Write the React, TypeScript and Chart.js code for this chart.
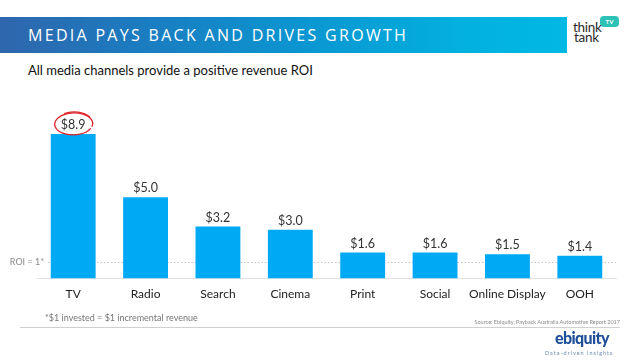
import React, { useEffect, useRef } from "react";
import { Chart, registerables } from "chart.js";

Chart.register(...registerables);

const categories = ["TV", "Radio", "Search", "Cinema", "Print", "Social", "Online Display", "OOH"];
const roiValues = [8.9, 5.0, 3.2, 3.0, 1.6, 1.6, 1.5, 1.4];
const roiBreakEven = 1;
const yMin = 0;
const yMax = 10;

const titleText = "MEDIA PAYS BACK AND DRIVES GROWTH";
const subtitleText = "All media channels provide a positive revenue ROI";
const roiLabel = "ROI = 1*";
const footnoteText = "*$1 invested = $1 incremental revenue";
const sourceText = "Source: Ebiquity, Payback Australia Automotive Report 2017";

const BAR_COLOR = "#00a9f4";

const annotationPlugin = {
  id: "annotations",
  beforeDatasetsDraw(chart: any) {
    const { ctx, chartArea, scales } = chart;
    const y = Math.round(scales.y.getPixelForValue(roiBreakEven)) + 0.5;
    ctx.save();
    ctx.strokeStyle = "#c4c4c4";
    ctx.lineWidth = 1;
    ctx.setLineDash([1.5, 2]);
    ctx.beginPath();
    ctx.moveTo(chartArea.left + 11, y);
    ctx.lineTo(chartArea.right, y);
    ctx.stroke();
    ctx.setLineDash([]);
    ctx.fillStyle = "#8a8a8a";
    ctx.font = "9px Lato, 'Liberation Sans', sans-serif";
    ctx.textAlign = "right";
    ctx.textBaseline = "middle";
    ctx.fillText(roiLabel, chartArea.left + 7, y);
    ctx.restore();
  },
  afterDatasetsDraw(chart: any) {
    const { ctx } = chart;
    const meta = chart.getDatasetMeta(0);
    ctx.save();
    ctx.fillStyle = "#333333";
    ctx.font = "12.5px Lato, 'Liberation Sans', sans-serif";
    ctx.textAlign = "center";
    ctx.textBaseline = "middle";
    meta.data.forEach((bar: any, i: number) => {
      const v = roiValues[i];
      ctx.fillText("$" + v.toFixed(1), bar.x, bar.y - 9);
    });
    // red hand-drawn circle around the top value
    const top = meta.data[0];
    if (top) {
      const cx = top.x + 0.5;
      const cy = top.y - 10;
      ctx.strokeStyle = "#e0262b";
      ctx.lineWidth = 1.3;
      ctx.beginPath();
      ctx.ellipse(cx, cy, 19, 11, -0.03, 0.15 * Math.PI, 2.1 * Math.PI);
      ctx.stroke();
      ctx.beginPath();
      ctx.ellipse(cx + 1, cy - 0.5, 18.5, 11.5, 0.04, 1.3 * Math.PI, 1.8 * Math.PI);
      ctx.stroke();
    }
    ctx.restore();
  },
};

function ChartCanvas() {
  const ref = useRef<HTMLCanvasElement | null>(null);
  useEffect(() => {
    if (!ref.current) return;
    const chart = new Chart(ref.current, {
      type: "bar",
      data: {
        labels: categories,
        datasets: [
          {
            data: roiValues,
            backgroundColor: BAR_COLOR,
            borderWidth: 0,
            barPercentage: 0.62,
            categoryPercentage: 1,
          },
        ],
      },
      options: {
        animation: false,
        responsive: false,
        devicePixelRatio: 1,
        layout: { padding: { left: 37, right: 14, top: 116, bottom: 51 } },
        plugins: {
          legend: { display: false },
          tooltip: { enabled: false },
          title: { display: false },
        },
        scales: {
          x: {
            grid: { display: false, drawTicks: false },
            border: { display: true, color: "#e2e2e2", width: 1 },
            ticks: {
              color: "#222222",
              font: { family: "Lato, 'Liberation Sans', sans-serif", size: 12 },
              padding: 8,
              maxRotation: 0,
              autoSkip: false,
            },
          },
          y: {
            display: false,
            min: yMin,
            max: yMax,
          },
        },
      },
      plugins: [annotationPlugin],
    });
    return () => chart.destroy();
  }, []);
  return (
    <canvas
      ref={ref}
      width={630}
      height={360}
      style={{ position: "absolute", left: 0, top: 0, width: 630, height: 360 }}
    />
  );
}

export default function App() {
  return (
    <div
      style={{
        position: "absolute",
        left: 0,
        top: 0,
        width: 630,
        height: 360,
        background: "#ffffff",
        overflow: "hidden",
        fontFamily: "Lato, 'Liberation Sans', sans-serif",
      }}
    >
      {/* header band */}
      <div
        style={{
          position: "absolute",
          left: 0,
          top: 17,
          width: 567,
          height: 36,
          background:
            "linear-gradient(90deg, #2f66ad 0%, #1b7cc0 25%, #0a97d2 55%, #03afde 80%, #00b9e4 100%)",
        }}
      />
      <div
        style={{
          position: "absolute",
          left: 28,
          top: 17,
          height: 36,
          lineHeight: "36px",
          color: "#ffffff",
          fontFamily: "'Open Sans', 'DejaVu Sans', sans-serif",
          fontSize: 16,
          letterSpacing: 2.3,
          whiteSpace: "nowrap",
        }}
      >
        {titleText}
      </div>
      <div
        style={{
          position: "absolute",
          left: 28,
          top: 62,
          lineHeight: "16px",
          color: "#111111",
          fontSize: 13,
          whiteSpace: "nowrap",
        }}
      >
        {subtitleText}
      </div>

      {/* think tank logo */}
      <div
        style={{
          position: "absolute",
          left: 600,
          top: 16,
          width: 19,
          height: 11,
          borderRadius: 4,
          background: "#2cc2b6",
          color: "#ffffff",
          fontSize: 6,
          fontWeight: 700,
          lineHeight: "11px",
          textAlign: "center",
        }}
      >
        TV
      </div>
      <div
        style={{
          position: "absolute",
          left: 573,
          top: 22,
          color: "#2a2a2a",
          fontSize: 13.5,
          lineHeight: "10px",
          letterSpacing: -0.3,
        }}
      >
        <div>think</div>
        <div style={{ paddingLeft: 1 }}>tank</div>
      </div>

      <ChartCanvas />

      {/* footer */}
      <div
        style={{
          position: "absolute",
          left: 45,
          top: 311,
          lineHeight: "14px",
          color: "#777777",
          fontSize: 9,
          whiteSpace: "nowrap",
        }}
      >
        {footnoteText}
      </div>
      <div
        style={{
          position: "absolute",
          left: 20,
          top: 327,
          width: 600,
          height: 1,
          background: "#d0d0d0",
        }}
      />
      <div
        style={{
          position: "absolute",
          right: 10,
          top: 318,
          lineHeight: "8px",
          color: "#8a8a8a",
          fontSize: 5.5,
          whiteSpace: "nowrap",
        }}
      >
        {sourceText}
      </div>
      <div
        style={{
          position: "absolute",
          left: 555,
          top: 330,
          lineHeight: "16px",
          color: "#1f4f98",
          fontSize: 16,
          fontWeight: 900,
          letterSpacing: -0.6,
          whiteSpace: "nowrap",
        }}
      >
        ebiquity
      </div>
      <div
        style={{
          position: "absolute",
          left: 545,
          top: 350,
          lineHeight: "7px",
          color: "#6a8ab0",
          fontSize: 5.5,
          letterSpacing: 1,
          whiteSpace: "nowrap",
        }}
      >
        Data-driven insights
      </div>
    </div>
  );
}
